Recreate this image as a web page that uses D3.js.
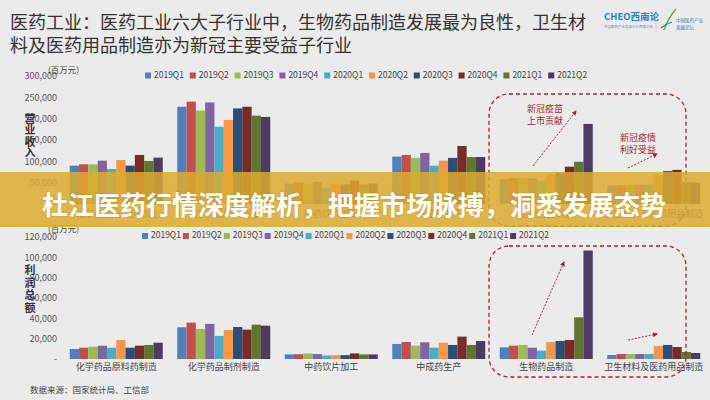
<!DOCTYPE html>
<html><head><meta charset="utf-8">
<script src="https://cdn.jsdelivr.net/npm/d3@7"></script>
<style>
html,body{margin:0;padding:0;background:#ebebeb;}
svg{display:block;font-family:"Noto Sans CJK SC","Noto Sans",sans-serif;}
</style></head>
<body><svg id="c" width="710" height="400"></svg>
<script>
const categories = ["化学药品原料药制造","化学药品制剂制造","中药饮片加工","中成药生产","生物药品制造","卫生材料及医药用品制造"];
const series = ["2019Q1","2019Q2","2019Q3","2019Q4","2020Q1","2020Q2","2020Q3","2020Q4","2021Q1","2021Q2"];
const colors = ["#4f81bd","#c0504d","#9bbb59","#8064a2","#4bacc6","#f79646","#2c4d75","#772c2a","#5f7530","#4d3b62"];
// 营业收入 (百万元), one array per category, values in series order
const revenue = [
  [90000, 93000, 92700, 101600, 82000, 103000, 90000, 115000, 101000, 108700],
  [228000, 240000, 219000, 238000, 181000, 197000, 224000, 228000, 207000, 204000],
  [48000, 50000, 47000, 52000, 38000, 47000, 46000, 55000, 46000, 48000],
  [111000, 115000, 108000, 119700, 90000, 101600, 108000, 136000, 110000, 110000],
  [58000, 61000, 61000, 60000, 55000, 68000, 73500, 87500, 99000, 187700],
  [43000, 44000, 44000, 45000, 45000, 68000, 77000, 80000, 51000, 50000]
];
// 利润总额 (百万元)
const profit = [
  [9850, 11100, 12100, 13100, 11100, 18700, 11100, 13100, 13800, 16000],
  [31200, 35800, 29600, 34500, 22700, 28600, 31500, 28900, 33800, 32800],
  [4500, 4700, 5500, 4800, 3500, 3800, 3800, 5500, 4500, 4500],
  [14800, 16700, 13100, 16400, 11100, 16000, 13800, 22000, 13800, 17700],
  [11500, 13100, 13800, 11100, 8200, 16700, 17700, 18700, 41000, 106700],
  [3900, 4900, 4900, 4900, 4900, 12800, 13800, 11800, 6900, 5900]
];
const revTicks = [0, 50000, 100000, 150000, 200000, 250000, 300000];
const profTicks = [0, 20000, 40000, 60000, 80000, 100000, 120000];
const titleLines = ["医药工业：医药工业六大子行业中，生物药品制造发展最为良性，卫生材","料及医药用品制造亦为新冠主要受益子行业"];
const bannerText = "杜江医药行情深度解析，把握市场脉搏，洞悉发展态势";
const sourceText = "数据来源：国家统计局、工信部";

const svg = d3.select("#c");
svg.append("rect").attr("width",710).attr("height",400).attr("fill","#ebebeb");

// title
svg.append("g").selectAll("text").data(titleLines).join("text")
  .attr("x",10).attr("y",(d,i)=>28.5+i*23).attr("font-size",18).attr("fill","#333").text(d=>d);

// logo
const logo = svg.append("g");
logo.append("text").attr("x",604).attr("y",20).attr("font-size",9.5).attr("font-weight",700).attr("fill","#2f7fc1").text("CHEO西南论");
logo.append("text").attr("x",604).attr("y",28).attr("font-size",3.5).attr("fill","#6a8fb0").text("中国医药产业发展论坛西南分会");
logo.append("line").attr("x1",656).attr("y1",10).attr("x2",656).attr("y2",32).attr("stroke","#bbb").attr("stroke-width",0.6);
logo.append("path").attr("d","M664,30 Q668,18 676,9").attr("fill","none").attr("stroke","#6cb33f").attr("stroke-width",1.6);
logo.append("path").attr("d","M661,28 Q666,24 672,22").attr("fill","none").attr("stroke","#2f7fc1").attr("stroke-width",1.2);
logo.append("text").attr("x",676).attr("y",22).attr("font-size",4.5).attr("fill","#2f7fc1").text("中国医药产业");
logo.append("text").attr("x",676).attr("y",29).attr("font-size",4.5).attr("fill","#2f7fc1").text("发展论坛");

const x0 = d3.scaleBand().domain(categories).range([62.5,707.5]).paddingInner(0.135).paddingOuter(0.0675);
const x1 = d3.scaleBand().domain(series).range([0,x0.bandwidth()]);
const fmt = v => v===0 ? "-" : d3.format(",")(v);

function drawChart(data, ticks, y0, y1, legendY, legendStart, legendStep, titleChars, titleY, titleStep, unitY, labelY){
  const y = d3.scaleLinear().domain([0, ticks[ticks.length-1]]).range([y0, y1]);
  const g = svg.append("g");
  // y axis
  const ax = g.append("g").attr("transform","translate(59,0)")
    .call(d3.axisLeft(y).tickValues(ticks).tickSize(0).tickPadding(2).tickFormat(fmt));
  ax.select(".domain").remove();
  ax.selectAll("text").attr("font-size",9).attr("fill","#555").attr("font-family","'Noto Sans CJK SC',sans-serif");
  // unit
  g.append("text").attr("x",48).attr("y",unitY).attr("font-size",8.5).attr("fill","#444").text("(百万元)");
  // y title vertical
  g.append("g").selectAll("text").data(titleChars).join("text")
    .attr("x",30).attr("y",(d,i)=>titleY+i*titleStep).attr("text-anchor","middle")
    .attr("dominant-baseline","middle").attr("font-size",11).attr("font-weight",700).attr("fill","#333").text(d=>d);
  // bars
  const grp = g.append("g").selectAll("g").data(categories).join("g")
    .attr("transform",c=>`translate(${x0(c)},0)`);
  grp.selectAll("rect").data((c,ci)=>series.map((s,si)=>({s,si,v:data[ci][si]}))).join("rect")
    .attr("x",d=>x1(d.s)).attr("width",x1.bandwidth())
    .attr("y",d=>y(d.v)).attr("height",d=>y(0)-y(d.v)).attr("fill",d=>colors[d.si]);
  // category labels
  g.append("g").selectAll("text").data(categories).join("text")
    .attr("x",c=>x0(c)+x0.bandwidth()/2).attr("y",labelY).attr("text-anchor","middle")
    .attr("dominant-baseline","middle").attr("font-size",9).attr("fill","#444").text(c=>c);
  // legend
  const lg = g.append("g").selectAll("g").data(series).join("g")
    .attr("transform",(s,i)=>`translate(${legendStart+i*legendStep},${legendY})`);
  lg.append("rect").attr("x",0).attr("y",-3).attr("width",6).attr("height",6).attr("fill",(s,i)=>colors[i]);
  lg.append("text").attr("x",9).attr("y",0).attr("dominant-baseline","middle").attr("font-size",8.5).attr("fill","#444").text(s=>s);
  return y;
}

drawChart(revenue, revTicks, 204, 76, 75.5, 145, 44.8, ["营","业","收","入"], 120, 11.5, 73, 215);
drawChart(profit, profTicks, 359, 237, 236, 142, 40.9, ["利","润","总","额"], 271, 12.7, 232, 368);

// annotations
const red = "#a3262a";
svg.append("defs").append("marker").attr("id","ah").attr("viewBox","0 0 10 10").attr("refX",8).attr("refY",5)
  .attr("markerWidth",5).attr("markerHeight",5).attr("orient","auto")
  .append("path").attr("d","M0,0L10,5L0,10z").attr("fill",red);
const boxes = [[489,94,197,132],[489,246,197,131]];
svg.append("g").selectAll("rect").data(boxes).join("rect")
  .attr("x",d=>d[0]).attr("y",d=>d[1]).attr("width",d=>d[2]).attr("height",d=>d[3]).attr("rx",20)
  .attr("fill","none").attr("stroke",red).attr("stroke-width",1.3).attr("stroke-dasharray","4,3");
const arrows = [[533,166,576,111],[628,168,657,154],[532,335,564,262],[628,340,657,334]];
svg.append("g").selectAll("line").data(arrows).join("line")
  .attr("x1",d=>d[0]).attr("y1",d=>d[1]).attr("x2",d=>d[2]).attr("y2",d=>d[3])
  .attr("stroke",red).attr("stroke-width",1).attr("stroke-dasharray","2,1.5").attr("marker-end","url(#ah)");
const notes = [[545,110,"新冠疫苗"],[545,122,"上市贡献"],[638,139,"新冠疫情"],[638,151,"利好受益"]];
svg.append("g").selectAll("text").data(notes).join("text")
  .attr("x",d=>d[0]).attr("y",d=>d[1]).attr("text-anchor","middle").attr("dominant-baseline","middle")
  .attr("font-size",9).attr("fill",red).text(d=>d[2]);

// source
svg.append("text").attr("x",30).attr("y",391).attr("dominant-baseline","middle").attr("font-size",8.5).attr("fill","#444").text(sourceText);

// banner overlay
svg.append("rect").attr("x",0).attr("y",172).attr("width",710).attr("height",55).attr("fill","rgb(220,170,47)").attr("opacity",0.85);
svg.append("text").attr("x",354).attr("y",203).attr("text-anchor","middle").attr("dominant-baseline","central")
  .attr("font-size",26).attr("font-weight",700).attr("fill","#fff")
  .style("paint-order","stroke").attr("stroke","rgba(120,80,0,0.15)").attr("stroke-width",1.5)
  .text(bannerText);
</script></body></html>
